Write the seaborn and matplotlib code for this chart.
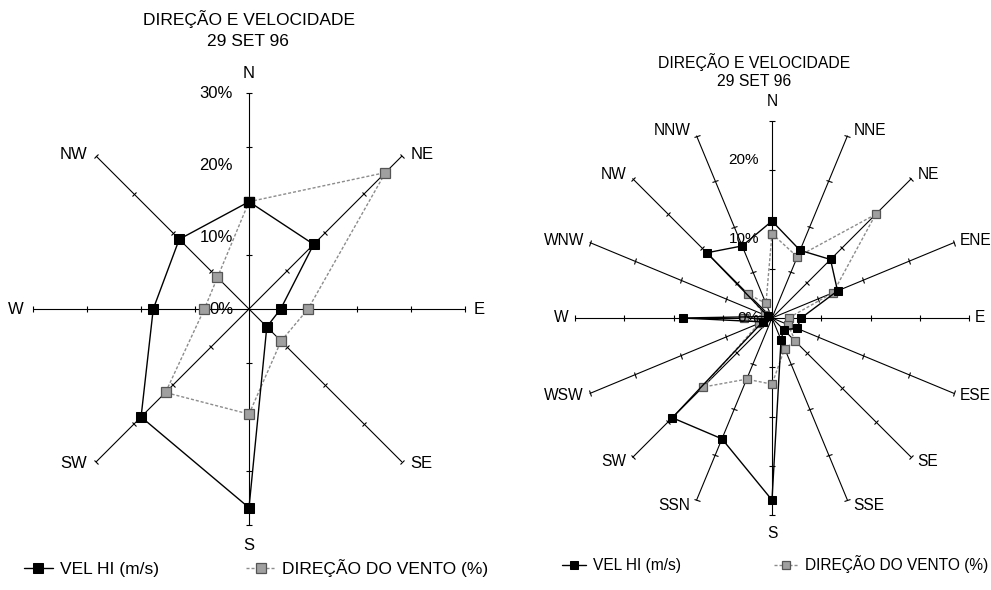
import numpy as np
import pandas as pd
import matplotlib
matplotlib.use("Agg")
import matplotlib.pyplot as plt
import seaborn as sns
from matplotlib.markers import MarkerStyle
from matplotlib.transforms import Affine2D

# ---------------- data ----------------
title_line1 = "DIREÇÃO E VELOCIDADE"
title_line2 = "29 SET 96"
series_names = ["VEL HI (m/s)", "DIREÇÃO DO VENTO (%)"]

dirs8 = ["N", "NE", "E", "SE", "S", "SW", "W", "NW"]
vel8 = [14.9, 12.7, 4.4, 3.5, 27.6, 21.2, 13.3, 13.7]
wind8 = [14.9, 26.8, 8.2, 6.3, 14.6, 16.4, 6.2, 6.2]
pct8 = [0, 10, 20, 30]
rmax8 = 30

dirs16 = ["N", "NNE", "NE", "ENE", "E", "ESE", "SE", "SSE",
          "S", "SSN", "SW", "WSW", "W", "WNW", "NW", "NNW"]
vel16 = [12.3, 9.3, 10.5, 9.0, 3.7, 3.4, 2.1, 3.0,
         23.1, 16.6, 17.9, 1.3, 11.3, 0.5, 11.7, 9.9]
wind16 = [10.7, 8.4, 18.6, 8.4, 2.1, 2.2, 4.2, 4.2,
          8.4, 8.4, 12.4, 1.8, 3.5, 1.0, 4.3, 2.0]
pct16 = [0, 10, 20]
rmax16 = 25

# ---------------- style ----------------
sns.set_theme(style="white")
plt.rcParams["font.family"] = ["Liberation Sans", "DejaVu Sans"]
plt.rcParams["text.color"] = "black"
plt.rcParams["legend.labelcolor"] = "black"

PX = 0.72  # points per pixel at 100 dpi

fig = plt.figure(figsize=(9.91, 5.9), dpi=100)


def radar(ax, dirs, vel, wind, rmax, pcts, fs_lab, fs_tick, ms, side_gap, vfac,
          ns_gap, pct_gap):
    n = len(dirs)
    theta = np.deg2rad(np.arange(n) * 360.0 / n)
    ax.set_theta_zero_location("N")
    ax.set_theta_direction(-1)
    ax.set_ylim(0, rmax)
    ax.grid(False)
    ax.set_xticks([])
    ax.set_yticks([])
    ax.spines["polar"].set_visible(False)
    ax.patch.set_alpha(0)

    # spokes with tick marks
    for t in theta:
        ax.plot([t, t], [0, rmax], color="black", lw=0.8, zorder=1, clip_on=False)
        deg = np.rad2deg(t)
        m = MarkerStyle("_", transform=Affine2D().rotate_deg(180 - deg))
        ax.plot([t] * 4, rmax * np.arange(1, 5) / 4.0, ls="none", marker=m,
                ms=5, mec="black", mew=0.8, zorder=1, clip_on=False)

    th_closed = np.append(theta, 2 * np.pi)
    df = pd.DataFrame({
        "theta": th_closed,
        "vel": np.append(vel, vel[0]),
        "wind": np.append(wind, wind[0]),
    })
    sns.lineplot(data=df, x="theta", y="wind", sort=False, estimator=None, ax=ax,
                 color="#8c8c8c", lw=1.0, linestyle=(0, (2.2, 1.4)), marker="s",
                 markersize=ms * 0.95, markerfacecolor="#a0a0a0",
                 markeredgecolor="#555555", markeredgewidth=0.9,
                 label=series_names[1], zorder=3, clip_on=False)
    sns.lineplot(data=df, x="theta", y="vel", sort=False, estimator=None, ax=ax,
                 color="black", lw=1.0, marker="s", markersize=ms,
                 markerfacecolor="black", markeredgecolor="black",
                 label=series_names[0], zorder=4, clip_on=False)
    ax.set_xlabel("")
    ax.set_ylabel("")
    if ax.get_legend() is not None:
        ax.get_legend().remove()

    # direction labels
    for t, d in zip(theta, dirs):
        s, c = np.sin(t), np.cos(t)
        if abs(s) < 0.1:
            ha, dx, dy = "center", 0, ns_gap * np.sign(c)
        else:
            ha = "left" if s > 0 else "right"
            dx = side_gap * np.sign(s)
            dy = vfac * c
        ax.annotate(d, xy=(t, rmax), xytext=(dx * PX, dy * PX),
                    textcoords="offset points", ha=ha, va="center",
                    fontsize=fs_lab, color="black", annotation_clip=False)

    # percent labels along N spoke
    for p in pcts:
        ax.annotate(f"{p}%", xy=(0, p), xytext=(-pct_gap * PX, 0),
                    textcoords="offset points", ha="right", va="center",
                    fontsize=fs_tick, color="black", zorder=5,
                    annotation_clip=False)


axL = fig.add_axes([33 / 991, 1 - 525 / 590, 432 / 991, 432 / 590], projection="polar")
radar(axL, dirs8, vel8, wind8, rmax8, pct8, fs_lab=12, fs_tick=12, ms=7.2,
      side_gap=9, vfac=3, ns_gap=20, pct_gap=16)

axR = fig.add_axes([575 / 991, 1 - 515 / 590, 394 / 991, 394 / 590], projection="polar")
radar(axR, dirs16, vel16, wind16, rmax16, pct16, fs_lab=11.2, fs_tick=11, ms=5.8,
      side_gap=6, vfac=6, ns_gap=19, pct_gap=13)

# titles
fig.text(249 / 991, 1 - 19.5 / 590, title_line1, ha="center", va="center",
         fontsize=12.5, color="black")
fig.text(248 / 991, 1 - 41.5 / 590, title_line2, ha="center", va="center",
         fontsize=12.5, color="black")
fig.text(754 / 991, 1 - 62 / 590, title_line1, ha="center", va="center",
         fontsize=11.3, color="black")
fig.text(754 / 991, 1 - 82 / 590, title_line2, ha="center", va="center",
         fontsize=11.3, color="black")

# legends
hL, lL = axL.get_legend_handles_labels()
order = [lL.index(series_names[0]), lL.index(series_names[1])]
fig.legend([hL[i] for i in order], [lL[i] for i in order], loc="center",
           bbox_to_anchor=(256 / 991, 1 - 568 / 590), ncol=2, frameon=False,
           fontsize=12.5, handlelength=1.7, handletextpad=0.4, columnspacing=5.0,
           borderaxespad=0, borderpad=0, labelcolor="black")
hR, lR = axR.get_legend_handles_labels()
order = [lR.index(series_names[0]), lR.index(series_names[1])]
fig.legend([hR[i] for i in order], [lR[i] for i in order], loc="center",
           bbox_to_anchor=(775 / 991, 1 - 564 / 590), ncol=2, frameon=False,
           fontsize=11.2, handlelength=1.6, handletextpad=0.4, columnspacing=6.0,
           borderaxespad=0, borderpad=0, labelcolor="black")

fig.savefig("out.png", dpi=100)
